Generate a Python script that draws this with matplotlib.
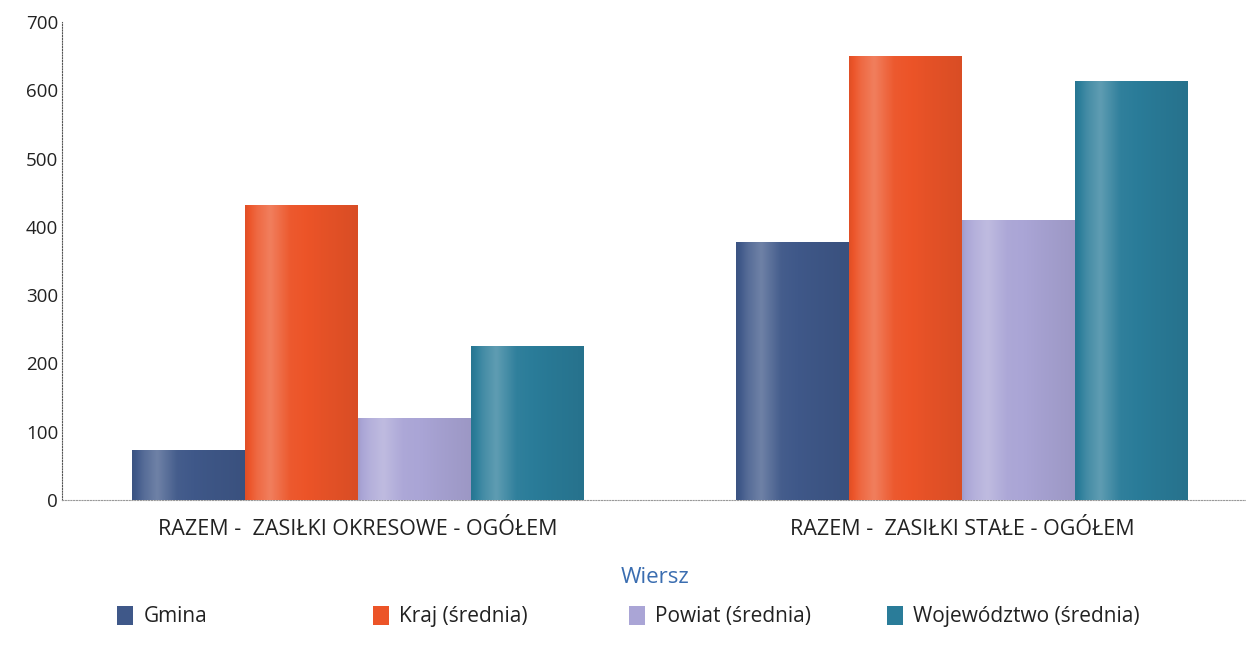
import numpy as np
import matplotlib.pyplot as plt
from matplotlib.colors import to_rgb
from matplotlib.patches import Rectangle

plt.rcParams['font.family'] = ['Open Sans', 'DejaVu Sans']

categories = ['RAZEM -  ZASIŁKI OKRESOWE - OGÓŁEM', 'RAZEM -  ZASIŁKI STAŁE - OGÓŁEM']
series = ['Gmina', 'Kraj (średnia)', 'Powiat (średnia)', 'Województwo (średnia)']
gmina = [73, 378]
kraj = [432, 650]
powiat = [120, 410]
wojewodztwo = [225, 614]
yticks = [0, 100, 200, 300, 400, 500, 600, 700]

colors = ['#3f5889', '#ec5428', '#aaa5d6', '#2a7c99']
values = [gmina, kraj, powiat, wojewodztwo]


def shade(color):
    # soft cylinder-like gradient across each bar
    c = np.array(to_rgb(color))
    t = np.linspace(0, 1, 80)
    k = np.interp(t, [0, 0.1, 0.22, 0.4, 0.7, 1], [-0.05, 0.12, 0.25, 0.03, -0.03, -0.08])
    rows = []
    for v in k:
        if v >= 0:
            rows.append(c + (1 - c) * v)
        else:
            rows.append(c * (1 + v))
    return np.array(rows)[None, :, :]


fig = plt.figure(figsize=(12.46, 6.5), dpi=100)
ax = fig.add_axes([0.05, 0.231, 0.95, 0.735])

x = np.arange(len(categories))
w = 0.187
for i, (name, vals, col) in enumerate(zip(series, values, colors)):
    bars = ax.bar(x + (i - 1.5) * w, vals, width=w, color=col, label=name, zorder=2)
    for b in bars:
        im = ax.imshow(shade(col), extent=[b.get_x(), b.get_x() + b.get_width(), 0, b.get_height()],
                       aspect='auto', zorder=3, interpolation='bicubic')
        im.set_clip_path(b)

ax.set_xlim(-0.49, 1.47)
ax.set_ylim(0, 700)
ax.set_yticks(yticks)
ax.set_xticks(x)
ax.set_xticklabels(categories, fontsize=15.5, color='#222222')
ax.tick_params(axis='both', length=0, labelsize=13.5, colors='#222222')
ax.tick_params(axis='x', labelsize=15.5, pad=14)
ax.tick_params(axis='y', pad=3)
for s in ['top', 'right']:
    ax.spines[s].set_visible(False)
ax.spines['left'].set_linestyle((0, (1, 1.5)))
ax.spines['left'].set_color('#555555')
ax.spines['left'].set_linewidth(0.8)
ax.spines['bottom'].set_linestyle((0, (1, 1.5)))
ax.spines['bottom'].set_color('#999999')
ax.spines['bottom'].set_linewidth(0.8)

fig.text(0.526, 0.112, 'Wiersz', ha='center', va='center', fontsize=16, color='#3a6db0')

# legend laid out on a fixed grid like the original
leg_x = [0.094, 0.299, 0.505, 0.712]
for lx, name, col in zip(leg_x, series, colors):
    fig.patches.append(Rectangle((lx, 0.038), 0.013, 0.03, transform=fig.transFigure,
                                 facecolor=col, edgecolor='none'))
    fig.text(lx + 0.021, 0.052, name, ha='left', va='center', fontsize=15, color='#222222')

fig.savefig('out.png', dpi=100)
